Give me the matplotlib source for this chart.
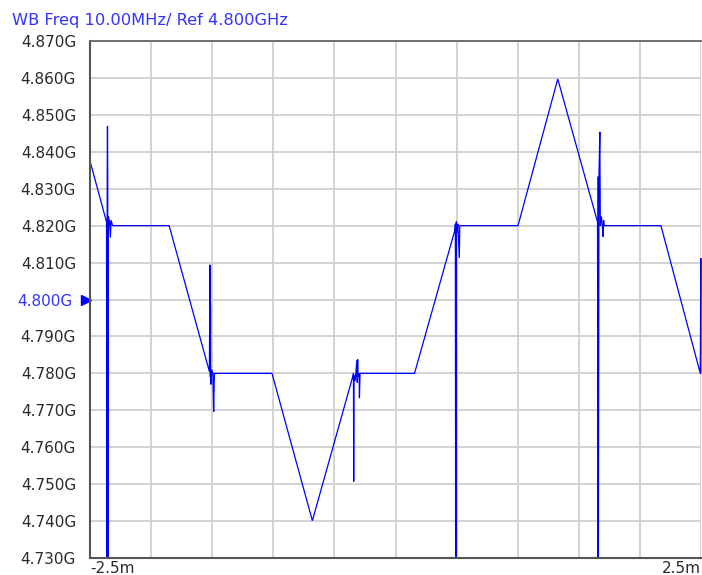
import matplotlib
matplotlib.use("Agg")
import matplotlib.pyplot as plt
import matplotlib.transforms as mtransforms

# ---- data (time in ms, frequency in GHz) ----
t_ms = [
    -2.5000, -2.3648, -2.3620, -2.3590, -2.3570, -2.3550, -2.3530, -2.3500,
    -2.3400, -2.3330, -2.3280, -2.3150, -1.8525,
    -1.5230, -1.5180, -1.5164, -1.5150, -1.5140, -1.5130, -1.5100, -1.5040,
    -1.4940, -1.4880, -1.4861, -1.4820, -1.0107,
    -0.6803,
    -0.3500, -0.3440, -0.3420, -0.3400, -0.3300, -0.3160, -0.3130, -0.3100,
    -0.3060, -0.2980, -0.2951, -0.2900, -0.2811, 0.1557,
    0.4861, 0.4900, 0.4920, 0.4935, 0.4950, 0.4980, 0.5040, 0.5100, 0.5221,
    0.5260, 0.5385,
    1.0025,
    1.3279,
    1.6533, 1.6570, 1.6590, 1.6605, 1.6650, 1.6721, 1.6760, 1.6850, 1.6950,
    1.6992, 1.7030, 1.7074, 2.1721,
    2.4943, 2.4965, 2.4985, 2.4990,
]
freq_ghz = [
    4.8375, 4.8210, 4.7300, 4.8340, 4.8470, 4.8340, 4.7300, 4.8225,
    4.8210, 4.8168, 4.8215, 4.8200, 4.8200,
    4.7805, 4.8094, 4.7985, 4.7790, 4.7985, 4.7790, 4.7770, 4.7810,
    4.7800, 4.7696, 4.7736, 4.7800, 4.7800,
    4.7401,
    4.7791, 4.7800, 4.7507, 4.7795, 4.7780, 4.7836, 4.7775, 4.7838,
    4.7790, 4.7800, 4.7733, 4.7800, 4.7800, 4.7800,
    4.8188, 4.8205, 4.7300, 4.8200, 4.7300, 4.8211, 4.8180, 4.8205, 4.8112,
    4.8200, 4.8200,
    4.8200,
    4.8597,
    4.8210, 4.7300, 4.8333, 4.7300, 4.8333, 4.8454, 4.8200, 4.8225, 4.8190,
    4.8170, 4.8215, 4.8200, 4.8200,
    4.7800, 4.7958, 4.8112, 4.7800,
]

y_ticks = [4.730, 4.740, 4.750, 4.760, 4.770, 4.780, 4.790, 4.800,
           4.810, 4.820, 4.830, 4.840, 4.850, 4.860, 4.870]
y_tick_labels = ["%.3fG" % v for v in y_ticks]
x_ticks = [-2.5, -2.0, -1.5, -1.0, -0.5, 0.0, 0.5, 1.0, 1.5, 2.0, 2.5]
x_end_labels = ["-2.5m", "2.5m"]
title_text = "WB Freq 10.00MHz/ Ref 4.800GHz"
ref_level = 4.800

BLUE = "#0000ff"
TEXT_BLUE = "#3333ff"
W, H = 702, 575

fig = plt.figure(figsize=(W / 100, H / 100), dpi=100)
left, right, top, bottom = 90, 701, 41, 558
ax = fig.add_axes([left / W, 1 - bottom / H, (right - left) / W, (bottom - top) / H])

ax.plot(t_ms, freq_ghz, color=BLUE, lw=0.9, solid_joinstyle="miter", clip_on=False)
ax.set_xlim(-2.5, 2.5)
ax.set_ylim(4.730, 4.870)

ax.set_yticks(y_ticks)
ax.set_yticklabels(y_tick_labels)
ax.set_xticks(x_ticks)
ax.set_xticklabels([])
ax.tick_params(axis="both", length=0)
ax.tick_params(axis="y", pad=10, labelsize=11, labelcolor="#2a2a2a")
for lbl, v in zip(ax.get_yticklabels(), y_ticks):
    if abs(v - ref_level) < 1e-9:
        lbl.set_color(TEXT_BLUE)
        lbl.set_transform(lbl.get_transform() +
                          mtransforms.ScaledTranslation(-4 / 100, 0, fig.dpi_scale_trans))

ax.grid(True, color="#d0d0d0", lw=1.3)
ax.set_axisbelow(True)
for side in ["left", "bottom"]:
    ax.spines[side].set_color("#555555")
    ax.spines[side].set_linewidth(1.5)
ax.spines["top"].set_color("#666666")
ax.spines["top"].set_linewidth(1.3)
ax.spines["right"].set_visible(False)

# reference marker
trans = mtransforms.blended_transform_factory(ax.transAxes, ax.transData)
ax.plot([-0.0066], [ref_level], marker=">", color=BLUE, markersize=7,
        transform=trans, clip_on=False, lw=0)

# x end labels
ax.text(0.0, -0.005, x_end_labels[0], transform=ax.transAxes, ha="left", va="top",
        fontsize=11, color="#2a2a2a")
ax.text(1.0, -0.005, x_end_labels[1], transform=ax.transAxes, ha="right", va="top",
        fontsize=11, color="#2a2a2a")

fig.text(12 / W, 1 - 20 / H, title_text, ha="left", va="center", fontsize=11.7,
         color=TEXT_BLUE)

fig.savefig("out.png", dpi=100)
